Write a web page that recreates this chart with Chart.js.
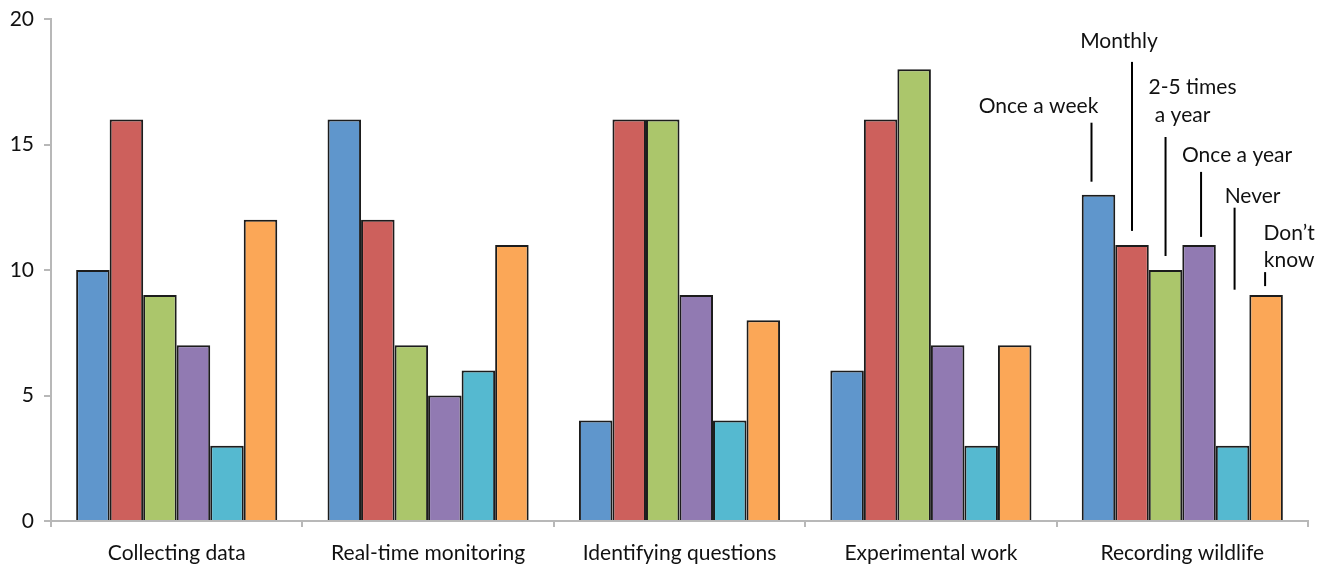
<!DOCTYPE html>
<html>
<head>
<meta charset="utf-8">
<script src="https://cdn.jsdelivr.net/npm/chart.js@4"></script>
<style>
html,body{margin:0;padding:0;background:#fff;}
#wrap{width:1328px;height:564px;}
</style>
</head>
<body>
<div id="wrap"><canvas id="c" width="1328" height="564"></canvas></div>
<script>
const categories = ["Collecting data","Real-time monitoring","Identifying questions","Experimental work","Recording wildlife"];
const seriesNames = ["Once a week","Monthly","2-5 times a year","Once a year","Never","Don\u2019t know"];
const onceAWeek = [10,16,4,6,13];
const monthly = [16,12,16,16,11];
const twoToFiveTimes = [9,7,16,18,10];
const onceAYear = [7,5,9,7,11];
const never = [3,6,4,3,3];
const dontKnow = [12,11,8,7,9];
const yTicks = [0,5,10,15,20];

const seriesValues = [onceAWeek, monthly, twoToFiveTimes, onceAYear, never, dontKnow];
const colors = ["#5F96CC","#CD605C","#ABC66B","#917AB2","#55B9D0","#FBA757"];

// annotation labels for the last category (text lines, offsets relative to bar)
const annot = [
  {lines:["Once a week"], dx:-7, top:-72, bot:-13, tx:[-53], ty:[-16]},
  {lines:["Monthly"], dx:0, top:-183, bot:-14, tx:[-13], ty:[-21]},
  {lines:["2-5 times","a year"], dx:0, top:-133, bot:-14, tx:[27,17], ty:[-50,-22]},
  {lines:["Once a year"], dx:2, top:-73, bot:-8, tx:[36], ty:[-17]},
  {lines:["Never"], dx:2, top:-238, bot:-156, tx:[18], ty:[-11]},
  {lines:["Don\u2019t","know"], dx:-1, top:-23, bot:-9, tx:[24,24], ty:[-39,-12]}
];

const FONT = "Lato, 'Open Sans', sans-serif";

const annotPlugin = {
  id:'annot',
  afterDatasetsDraw(chart){
    const ctx = chart.ctx;
    ctx.save();
    const last = categories.length-1;
    annot.forEach((a,i)=>{
      const el = chart.getDatasetMeta(i).data[last];
      const x = el.x + a.dx;
      const y0 = el.y + a.top, y1 = el.y + a.bot;
      ctx.strokeStyle = '#000';
      ctx.lineWidth = 2;
      ctx.beginPath();
      ctx.moveTo(x, y0); ctx.lineTo(x, y1); ctx.stroke();
      ctx.fillStyle = '#111';
      ctx.font = '21px ' + FONT;
      ctx.textAlign = 'center';
      ctx.textBaseline = 'middle';
      a.lines.forEach((t,j)=>{
        ctx.fillText(t, x + a.tx[j], y0 + a.ty[j]);
      });
    });
    ctx.restore();
  }
};

new Chart(document.getElementById('c'), {
  type:'bar',
  data:{
    labels: categories,
    datasets: seriesNames.map((n,i)=>({
      label:n,
      data: seriesValues[i],
      backgroundColor: colors[i],
      borderColor: '#1c1c1c',
      borderWidth: 2,
      barPercentage: 1.0,
      categoryPercentage: 0.8
    }))
  },
  options:{
    responsive:false,
    animation:false,
    layout:{padding:{top:19,right:20,left:0,bottom:0}},
    plugins:{legend:{display:false},tooltip:{enabled:false}},
    scales:{
      x:{
        grid:{offset:true, drawOnChartArea:false, tickLength:6, color:'#b8b8b8', lineWidth:2},
        border:{color:'#b8b8b8', width:2},
        ticks:{color:'#111', font:{family:FONT, size:21}, padding:14},
        afterFit(s){ s.height = 43; s.paddingLeft = 0; s.paddingRight = 0; }
      },
      y:{
        min:0, max:20,
        afterBuildTicks(s){ s.ticks = yTicks.map(v=>({value:v})); },
        grid:{drawOnChartArea:false, tickLength:7, color:'#b8b8b8', lineWidth:2},
        border:{color:'#b8b8b8', width:2},
        ticks:{color:'#111', font:{family:FONT, size:21}, padding:10},
        afterFit(s){ s.width = 51; s.paddingTop = 0; s.paddingBottom = 0; }
      }
    }
  },
  plugins:[annotPlugin]
});
</script>
</body>
</html>
